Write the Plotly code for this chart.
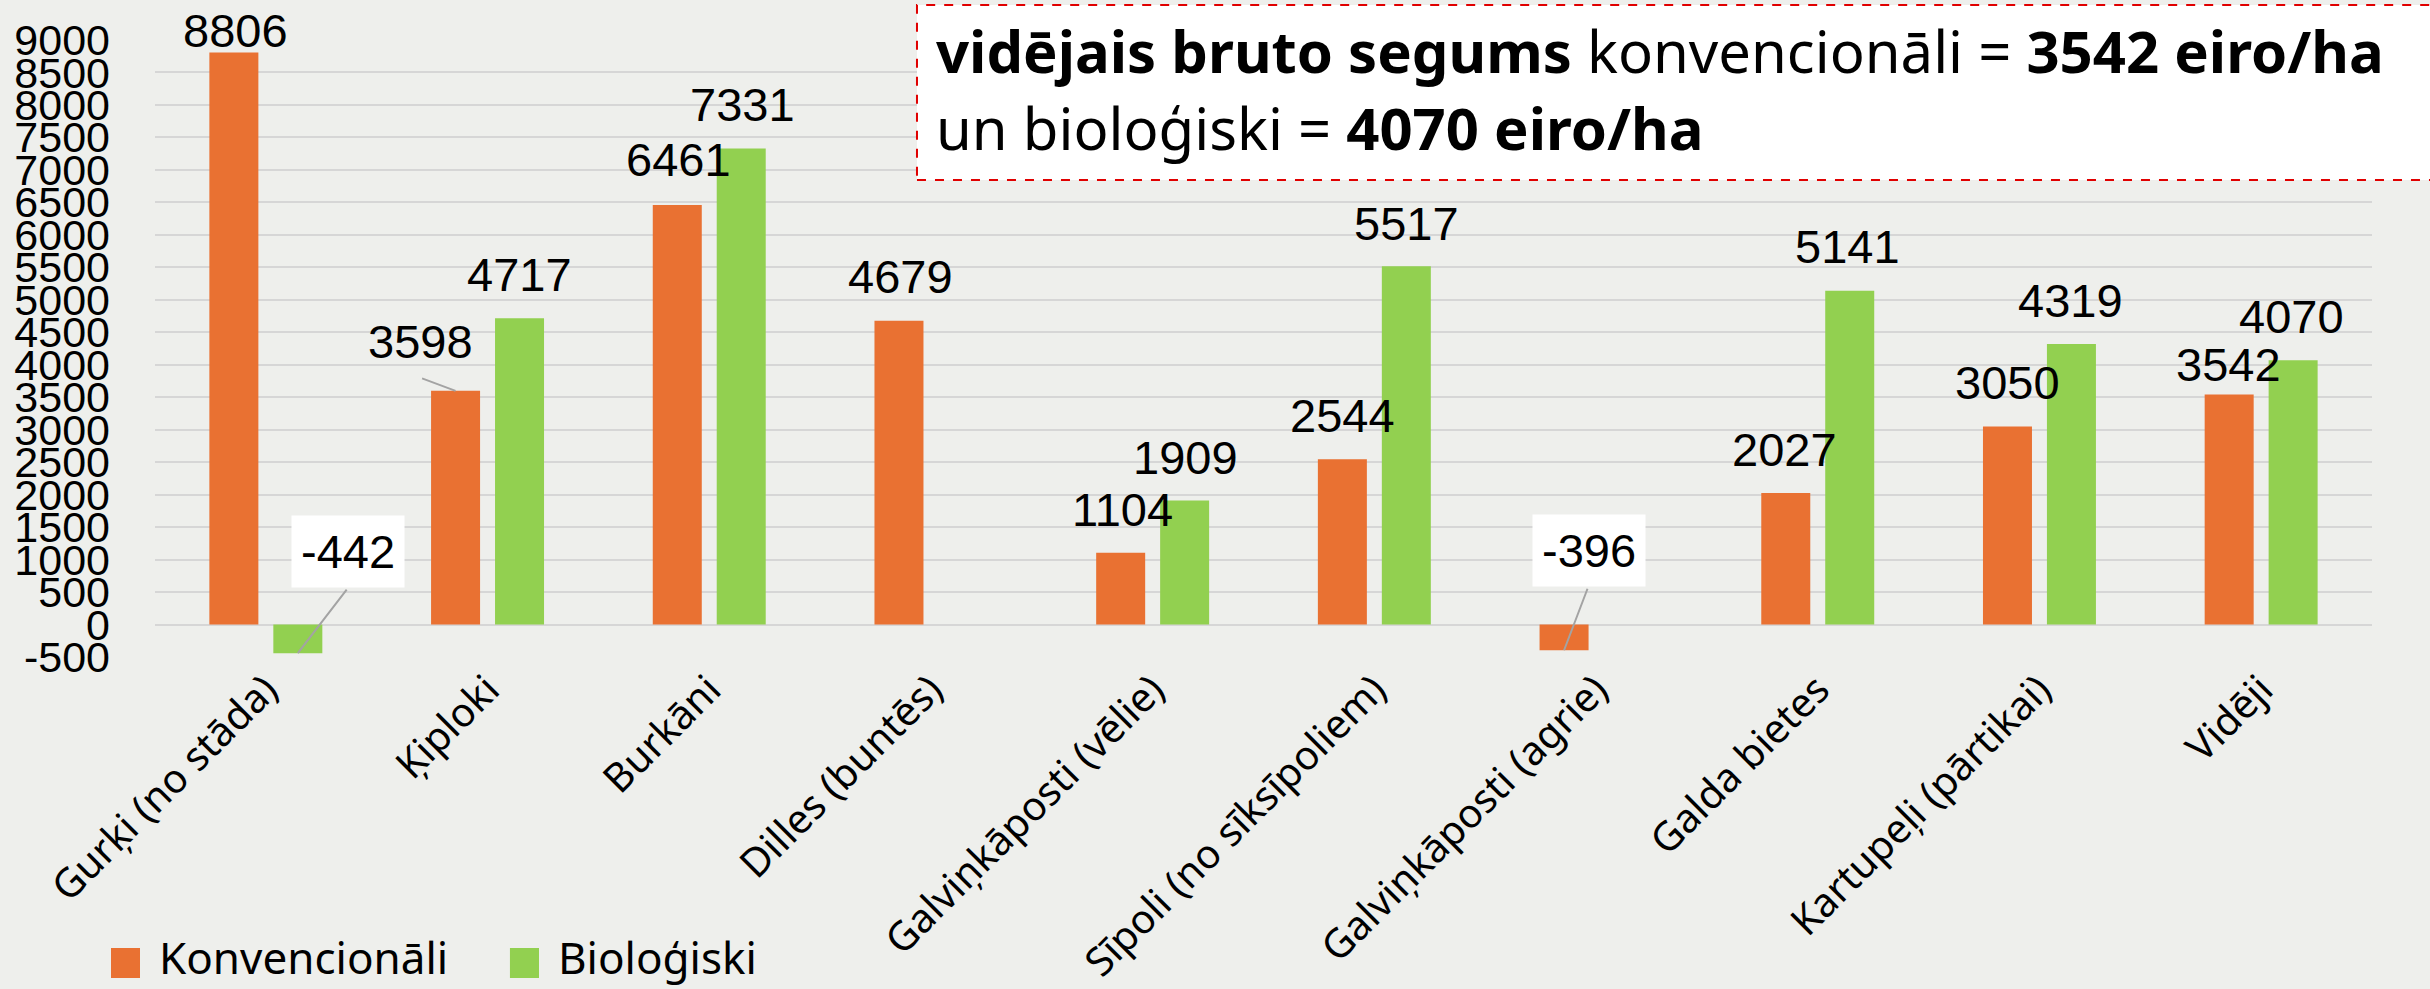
import plotly.graph_objects as go

categories = ["Gurķi (no stāda)", "Ķiploki", "Burkāni", "Dilles (buntēs)",
              "Galviņkāposti (vēlie)", "Sīpoli (no sīksīpoliem)", "Galviņkāposti (agrie)",
              "Galda bietes", "Kartupeļi (pārtikai)", "Vidēji"]
konv = [8806, 3598, 6461, 4679, 1104, 2544, -396, 2027, 3050, 3542]
bio = [-442, 4717, 7331, None, 1909, 5517, None, 5141, 4319, 4070]
yticks = list(range(-500, 9001, 500))

# label offsets (pixels) of the label centre relative to the bar end
konv_off = [(2, -22), (-35, -49), (1, -45), (2, -44), (2, -43), (0, -44), (25, -100), (-1, -43), (0, -44), (-1, -30)]
bio_off = [(50, -102), (0, -44), (1, -44), (0, 0), (1, -43), (0, -43), (0, 0), (-2, -44), (-1, -44), (-2, -44)]
# white label boxes and leader-line tail offsets (None = no leader)
konv_box = [False, False, False, False, False, False, True, False, False, False]
bio_box = [True, False, False, False, False, False, False, False, False, False]
konv_leader = [None, (-35, -13), None, None, None, None, (24, -63), None, None, None]
bio_leader = [(50, -65), None, None, None, None, None, None, None, None, None]

ORANGE = "#E97132"
GREEN = "#92D050"
BG = "#eeefec"
BARGAP = 0.423
BARGROUPGAP = 0.234

fig = go.Figure()
fig.add_trace(go.Bar(x=categories, y=konv, name="Konvencionāli", marker_color=ORANGE,
                     marker_line_width=0, showlegend=False))
fig.add_trace(go.Bar(x=categories, y=bio, name="Bioloģiski", marker_color=GREEN,
                     marker_line_width=0, showlegend=False))

shift = (1 - BARGAP) / 4
label_font = dict(family="Liberation Sans, Arial, sans-serif", size=47, color="black")


def add_labels(values, offs, leaders, boxes, dx):
    for i, v in enumerate(values):
        if v is None:
            continue
        if leaders[i] is not None:
            lx, ly = leaders[i]
            fig.add_annotation(x=i + dx, y=v, xref="x", yref="y", text="", showarrow=True,
                               ax=lx, ay=ly, arrowhead=0, standoff=0, startstandoff=0,
                               arrowcolor="#a3a3a3", arrowwidth=2)
        ax, ay = offs[i]
        fig.add_annotation(
            x=i + dx, y=v, xref="x", yref="y", text=str(v), showarrow=True,
            ax=ax, ay=ay, arrowhead=0, standoff=0, arrowcolor="rgba(0,0,0,0)", arrowwidth=0.1,
            font=label_font,
            bgcolor="white" if boxes[i] else "rgba(0,0,0,0)",
            borderpad=9 if boxes[i] else 0,
        )


add_labels(konv, konv_off, konv_leader, konv_box, -shift)
add_labels(bio, bio_off, bio_leader, bio_box, shift)

# info box (dashed red border)
fig.add_shape(type="rect", xref="paper", yref="paper", x0=0.3437, x1=1.035, y0=0.7731, y1=1.0567,
              line=dict(color="#e00000", width=2, dash="dash"), fillcolor="white", layer="above")
box_font = dict(family="Noto Sans, Open Sans, sans-serif", size=58, color="black")
fig.add_annotation(xref="paper", yref="paper", x=0.3514, y=0.9822, xanchor="left", yanchor="middle",
                   showarrow=False, font=box_font,
                   text="<b>vidējais bruto segums</b> konvencionāli = <b>3542 eiro/ha</b>")
fig.add_annotation(xref="paper", yref="paper", x=0.3514, y=0.8574, xanchor="left", yanchor="middle",
                   showarrow=False, font=box_font,
                   text="un bioloģiski = <b>4070 eiro/ha</b>")

# custom legend
leg_font = dict(family="Noto Sans, Open Sans, sans-serif", size=44, color="black")
for (x0, x1, tx, col, name) in [(-0.01985, -0.00677, 0.0009, ORANGE, "Konvencionāli"),
                                 (0.1601, 0.1732, 0.1809, GREEN, "Bioloģiski")]:
    fig.add_shape(type="rect", xref="paper", yref="paper", x0=x0, x1=x1, y0=-0.5203, y1=-0.4716,
                  line_width=0, fillcolor=col)
    fig.add_annotation(xref="paper", yref="paper", x=tx, y=-0.4862, xanchor="left", yanchor="middle",
                       showarrow=False, font=leg_font, text=name)

fig.update_layout(
    width=2430, height=989,
    margin=dict(l=155, r=58, t=40, b=332, autoexpand=False),
    paper_bgcolor=BG, plot_bgcolor=BG,
    barmode="group", bargap=BARGAP, bargroupgap=BARGROUPGAP,
    showlegend=False,
)
fig.update_xaxes(type="category", tickangle=-45, showgrid=False, showline=False, ticks="",
                 automargin=False,
                 tickfont=dict(family="Noto Sans, Open Sans, sans-serif", size=40, color="black"))
fig.update_yaxes(range=[-500, 9000], tickmode="array", tickvals=yticks,
                 ticktext=[str(t) for t in yticks], showgrid=True, gridcolor="#d6d6d6", gridwidth=1.6,
                 zeroline=False, showline=False, ticks="", ticklabelstandoff=44, automargin=False,
                 tickfont=dict(family="Liberation Sans, Arial, sans-serif", size=43, color="black"))

fig.write_html("out.html", config={"displayModeBar": False},
               post_script="document.body.style.margin='0';document.body.style.overflow='hidden';")
